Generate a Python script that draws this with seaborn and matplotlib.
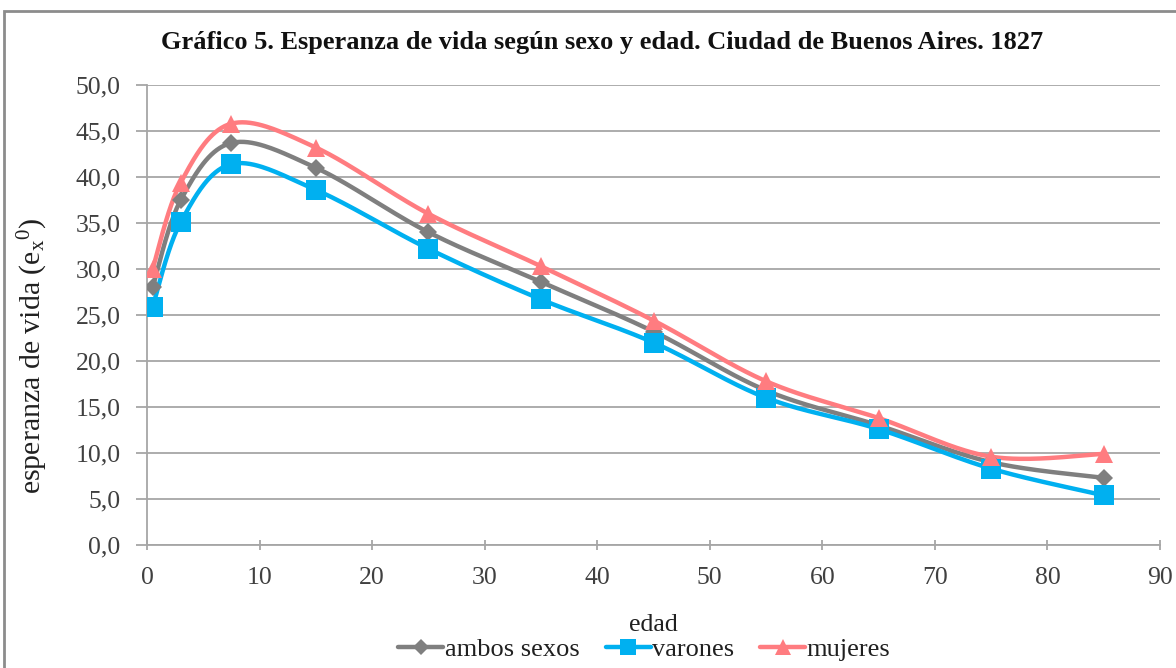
import numpy as np
import pandas as pd
import matplotlib
matplotlib.use("Agg")
import matplotlib.pyplot as plt
from matplotlib.lines import Line2D
from matplotlib.patches import Rectangle
from matplotlib.ticker import FuncFormatter, MultipleLocator
import seaborn as sns

edad = [0.5, 3, 7.5, 15, 25, 35, 45, 55, 65, 75, 85]
ambos = [28.0, 37.5, 43.7, 41.0, 34.0, 28.6, 23.2, 16.8, 13.0, 9.0, 7.3]
varones = [25.9, 35.1, 41.4, 38.6, 32.2, 26.7, 22.0, 16.0, 12.6, 8.3, 5.4]
mujeres = [30.0, 39.4, 45.8, 43.2, 36.0, 30.3, 24.4, 17.8, 13.8, 9.6, 9.9]

series_names = ["ambos sexos", "varones", "mujeres"]
colors = {"ambos sexos": "#7F7F7F", "varones": "#00B0F0", "mujeres": "#FF7C80"}
markers = {"ambos sexos": "D", "varones": "s", "mujeres": "^"}
msizes = {"ambos sexos": 9, "varones": 14, "mujeres": 13}

title = "Gráfico 5. Esperanza de vida según sexo y edad. Ciudad de Buenos Aires. 1827"


def smooth(xs, ys, n=40):
    """Excel-like smoothed line: cubic Bezier with Catmull-Rom control points."""
    P = np.column_stack([xs, ys]).astype(float)
    m = len(P)
    out = []
    for i in range(m - 1):
        p0 = P[i - 1] if i > 0 else P[i]
        p1 = P[i]
        p2 = P[i + 1]
        p3 = P[i + 2] if i + 2 < m else P[i + 1]
        c1 = p1 + (p2 - p0) / 6.0
        c2 = p2 - (p3 - p1) / 6.0
        t = np.linspace(0, 1, n)[:, None]
        seg = ((1 - t) ** 3) * p1 + 3 * ((1 - t) ** 2) * t * c1 + 3 * (1 - t) * t ** 2 * c2 + t ** 3 * p2
        if i > 0:
            seg = seg[1:]
        out.append(seg)
    out = np.vstack(out)
    return out[:, 0], out[:, 1]


sns.set_theme(style="white")
plt.rcParams["font.family"] = ["Liberation Serif", "DejaVu Serif"]
plt.rcParams["mathtext.fontset"] = "custom"
plt.rcParams["mathtext.rm"] = "Liberation Serif"
plt.rcParams["mathtext.it"] = "Liberation Serif"

fig = plt.figure(figsize=(11.76, 6.68), dpi=100)
fig.patch.set_facecolor("white")
ax = fig.add_axes([0.125, 0.1841, 0.8614, 0.6887])

data = {"ambos sexos": ambos, "varones": varones, "mujeres": mujeres}

rows = []
for name in series_names:
    sx, sy = smooth(edad, data[name])
    for i, (a, b) in enumerate(zip(sx, sy)):
        rows.append({"edad": a, "ex": b, "serie": name, "ord": i})
curve_df = pd.DataFrame(rows)

pts = pd.DataFrame({
    "edad": edad * 3,
    "ex": ambos + varones + mujeres,
    "serie": sum([[n] * len(edad) for n in series_names], []),
})

for name in series_names:
    d = curve_df[curve_df["serie"] == name]
    sns.lineplot(data=d, x="edad", y="ex", sort=False, estimator=None,
                 color=colors[name], linewidth=3.2, ax=ax, legend=False, zorder=3)
for name in series_names:
    d = pts[pts["serie"] == name]
    ax.plot(d["edad"], d["ex"], linestyle="none", marker=markers[name],
            markersize=msizes[name], color=colors[name], markeredgewidth=0, zorder=4)

ax.set_xlim(0, 90)
ax.set_ylim(0, 50)
ax.xaxis.set_major_locator(MultipleLocator(10))
ax.yaxis.set_major_locator(MultipleLocator(5))
ax.yaxis.set_major_formatter(FuncFormatter(lambda v, p: f"{v:.1f}".replace(".", ",")))

ax.grid(axis="y", color="#A6A6A6", linewidth=1.3)
ax.grid(axis="x", visible=False)
ax.set_axisbelow(True)
for s in ["top", "right"]:
    ax.spines[s].set_visible(False)
for s in ["left", "bottom"]:
    ax.spines[s].set_color("#A6A6A6")
    ax.spines[s].set_linewidth(1.3)

ax.tick_params(axis="y", which="major", direction="out", length=8, width=1.3,
               color="#A6A6A6", labelsize=18.5, labelcolor="#404040", pad=11, left=True)
ax.tick_params(axis="x", which="major", direction="inout", length=7, width=1.3,
               color="#A6A6A6", labelsize=18.5, labelcolor="#404040", pad=12, bottom=True)

ax.set_xlabel("edad", fontsize=18.5, color="#202020", labelpad=18)
ax.set_ylabel(r"esperanza de vida (e$_x$$^0$)", fontsize=21.5, color="#202020")
ax.yaxis.set_label_coords(50 / 1176, 1 - 356 / 668, transform=fig.transFigure)

fig.text(0.512, 0.936, title, ha="center", va="center", fontsize=19,
         fontweight="bold", color="#111111")

handles = [Line2D([0], [0], color=colors[n], linewidth=3.2, marker=markers[n],
                  markersize=msizes[n] * 0.85, markeredgewidth=0) for n in series_names]
fig.legend(handles, series_names, loc="center", bbox_to_anchor=(0.548, 0.028),
           ncol=3, frameon=False, fontsize=19, handlelength=1.7, handletextpad=0.05,
           columnspacing=1.0, labelcolor="#202020")

fig.patches.append(Rectangle((4 / 1176, -0.05), 1.2, 1 - 11 / 668 + 0.05,
                             transform=fig.transFigure, fill=False,
                             edgecolor="#8C8C8C", linewidth=2.0, zorder=0))

fig.savefig("out.png", dpi=100)
